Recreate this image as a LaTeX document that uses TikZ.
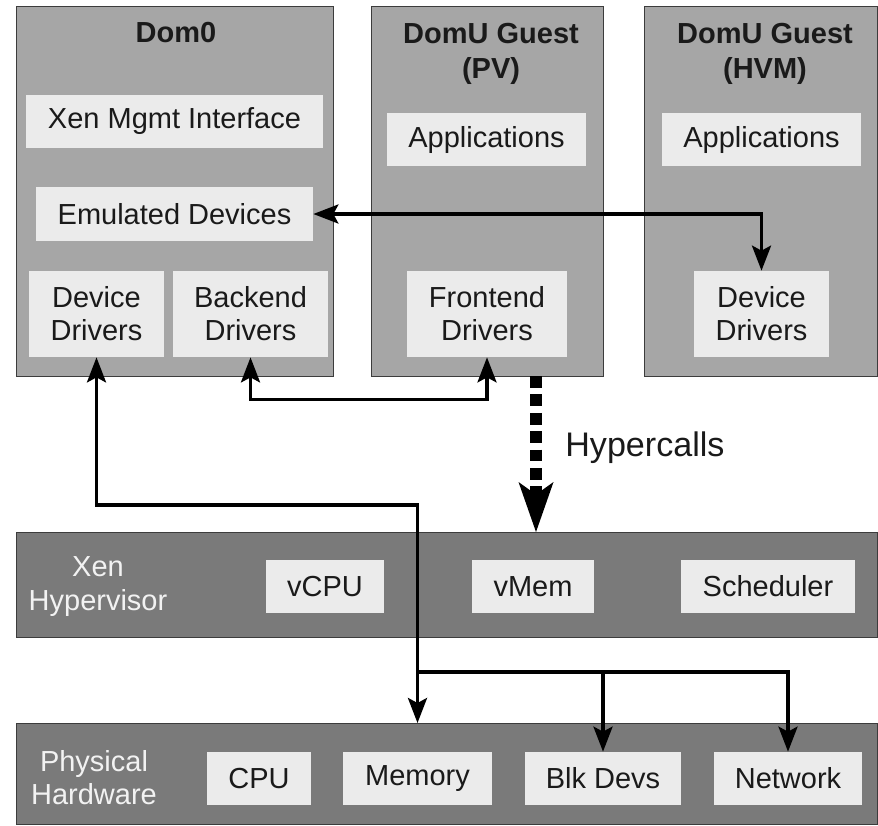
\documentclass[tikz,border=0pt]{standalone}
\usepackage{fontspec}
\setmainfont{Liberation Sans}
\usetikzlibrary{arrows.meta}
\definecolor{guestgray}{HTML}{A6A6A6}
\definecolor{tiergray}{HTML}{7A7A7A}
\definecolor{partgray}{HTML}{EBEBEB}
\definecolor{edgegray}{HTML}{3C3C3C}
\definecolor{inkgray}{HTML}{1A1A1A}

\begin{document}
\begin{tikzpicture}[
        font=\fontsize{16.5}{18.8}\selectfont,
        >={Stealth[length=0.5cm,width=0.38cm,inset=0.1cm]},
        guestbox/.style={draw=edgegray, line width=0.6pt, fill=guestgray, anchor=north west, inner sep=0pt, minimum height=7.4cm},
        tierbar/.style={draw=edgegray, line width=0.6pt, fill=tiergray, anchor=north west, inner sep=0pt, minimum width=17.22cm},
        part/.style={fill=partgray, text=inkgray, inner sep=0pt, align=center, minimum height=1.06cm},
        domtitle/.style={text=inkgray, font=\fontsize{16.5}{19.9}\selectfont\bfseries, align=center, inner sep=0pt},
        tierlabel/.style={text=white!95!black, align=center, inner sep=0pt},
        link/.style={line width=2pt},
        hcallline/.style={line width=0.254cm, dash pattern=on 0.234cm off 0.134cm, -{Stealth[length=1cm,width=0.7cm,inset=0.25cm,line width=0pt]}}
    ]
            \useasboundingbox (0,0) rectangle (17.56,-16.5);

            \node[guestbox, minimum width=6.34cm] (dom0) at (0.32,-0.12) {};
            \node[guestbox, minimum width=4.64cm] (pv) at (7.42,-0.12) {};
            \node[guestbox, minimum width=4.66cm] (hvm) at (12.88,-0.12) {};
            \node[domtitle] (dom0title) at (3.52,-0.66) {Dom0};
            \node[domtitle] (pvtitle) at (9.82,-1.07) {DomU Guest\\(PV)};
            \node[domtitle] (hvmtitle) at (15.30,-1.07) {DomU Guest\\(HVM)};

            \node[part, minimum width=5.94cm] (mgmt) at (3.49,-2.43) {Xen Mgmt Interface};
            \node[part, minimum width=5.54cm, minimum height=1.08cm] (emu) at (3.49,-4.28) {Emulated Devices};
            \node[part, minimum width=2.70cm, minimum height=1.72cm] (dd0) at (1.93,-6.28) {Device\\Drivers};
            \node[part, minimum width=3.10cm, minimum height=1.72cm] (back) at (5.01,-6.28) {Backend\\Drivers};
            \node[part, minimum width=3.98cm] (app1) at (9.73,-2.79) {Applications};
            \node[part, minimum width=3.20cm, minimum height=1.72cm] (front) at (9.74,-6.28) {Frontend\\Drivers};
            \node[part, minimum width=3.98cm] (app2) at (15.23,-2.79) {Applications};
            \node[part, minimum width=2.70cm, minimum height=1.72cm] (dd2) at (15.23,-6.28) {Device\\Drivers};

            \node[tierbar, minimum height=2.10cm] (hv) at (0.32,-10.64) {};
            \node[tierlabel] (hvlabel) at (1.96,-11.73) {Xen\\Hypervisor};
            \node[part, minimum width=2.36cm] (vcpu) at (6.50,-11.73) {vCPU};
            \node[part, minimum width=2.44cm] (vmem) at (10.66,-11.73) {vMem};
            \node[part, minimum width=3.48cm] (sched) at (15.36,-11.73) {Scheduler};

            \node[tierbar, minimum height=2.02cm] (hw) at (0.32,-14.46) {};
            \node[tierlabel] (hwlabel) at (1.88,-15.56) {Physical\\Hardware};
            \node[part, minimum width=2.08cm] (cpu) at (5.18,-15.57) {CPU};
            \node[part, minimum width=2.98cm] (mem) at (8.35,-15.57) {Memory};
            \node[part, minimum width=3.12cm] (blk) at (12.06,-15.57) {Blk Devs};
            \node[part, minimum width=2.96cm] (net) at (15.76,-15.57) {Network};

            \draw[link,<->] (emu.east) -| (dd2.north);
            \draw[link,<->] (back.south) -- ++(0,-0.84) -| (front.south);

            \coordinate (turn) at (8.35,-10.10);
            \coordinate (split) at (8.35,-13.44);
            \draw[link,<->] (dd0.south) |- (turn) -- (split) -- (mem |- hw.north);
            \draw[link,->] (split) -| (blk.north);
            \draw[link,->] (split) -| (net.north);

            \coordinate (hcall) at (10.72,-7.52);
            \draw[hcallline] (hcall) -- (hcall |- hv.north);
            \node[anchor=west, inner sep=0pt, text=inkgray, font=\fontsize{19.4}{23}\selectfont] (hclabel) at (11.30,-8.96) {Hypercalls};
        \end{tikzpicture}
\end{document}
